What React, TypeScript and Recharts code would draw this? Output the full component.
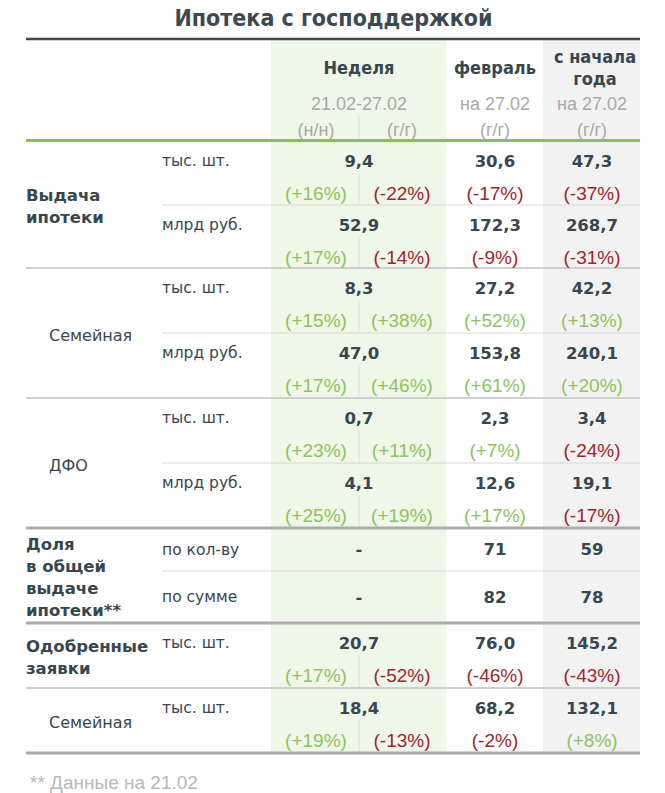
import React from 'react';
import { ComposedChart, XAxis, YAxis, Scatter, ReferenceArea, ReferenceLine } from 'recharts';

// ---------- data ----------
const title = 'Ипотека с господдержкой';
const columnHeaders = [['Неделя'], ['февраль'], ['с начала', 'года']];
const periodLabels = ['21.02-27.02', 'на 27.02', 'на 27.02'];
const changeLabels = ['(н/н)', '(г/г)', '(г/г)', '(г/г)'];
const sectionLabels = [
  ['Выдача', 'ипотеки'],
  ['Семейная'],
  ['ДФО'],
  ['Доля', 'в общей', 'выдаче', 'ипотеки**'],
  ['Одобренные', 'заявки'],
  ['Семейная'],
];
const sectionBold = [true, false, false, true, true, false];
const sectionRows = [[0, 1], [2, 3], [4, 5], [6, 7], [8], [9]];
const sectionDecimals = [1, 1, 1, 0, 1, 1];
const unitLabels = ['тыс. шт.', 'млрд руб.', 'тыс. шт.', 'млрд руб.', 'тыс. шт.', 'млрд руб.', 'по кол-ву', 'по сумме', 'тыс. шт.', 'тыс. шт.'];
const weekValues = [9.4, 52.9, 8.3, 47.0, 0.7, 4.1, null, null, 20.7, 18.4];
const febValues = [30.6, 172.3, 27.2, 153.8, 2.3, 12.6, 71, 82, 76.0, 68.2];
const ytdValues = [47.3, 268.7, 42.2, 240.1, 3.4, 19.1, 59, 78, 145.2, 132.1];
const weekWoW = [16, 17, 15, 17, 23, 25, null, null, 17, 19];
const weekYoY = [-22, -14, 38, 46, 11, 19, null, null, -52, -13];
const febYoY = [-17, -9, 52, 61, 7, 17, null, null, -46, -2];
const ytdYoY = [-37, -31, 13, 20, -24, -17, null, null, -43, 8];
const footnote = '** Данные на 21.02';

// ---------- layout ----------
const W = 665;
const H = 793;
const LEFT = 26;
const RIGHT = 640;
const UNIT_X = 162;
const COL = { week: 359, wow: 316, yoy: 402, feb: 495, ytd: 592 };
const GREEN_BAND = [271, 446];
const GRAY_BAND = [543, 640];
const TITLE_LINE = 39;
const HEADER_LINE = 140.5;
const rowTops = [141, 205, 268, 333, 398, 463, 528, 571, 623, 688, 753];

const DARK = '#37474f';
const GREEN_TXT = '#8cc45e';
const RED_TXT = '#a3242a';
const GRAY_TXT = '#a9a9a9';

const SANS = "'DejaVu Sans', Verdana, sans-serif";
const COND = "'DejaVu Sans Condensed', 'DejaVu Sans', sans-serif";
const LIB = "'Liberation Sans', Arial, sans-serif";

type Kind = 'title' | 'colHeader' | 'sub' | 'unit' | 'sectionB' | 'section' | 'value' | 'pct' | 'foot';
const STYLES: Record<Kind, { font: string; size: number; weight: number | string; color: string; anchor: string; stretch?: string }> = {
  title: { font: COND, size: 23, weight: 700, color: '#3b4a50', anchor: 'middle', stretch: 'condensed' },
  colHeader: { font: COND, size: 18, weight: 700, color: DARK, anchor: 'middle', stretch: 'condensed' },
  sub: { font: LIB, size: 18, weight: 400, color: GRAY_TXT, anchor: 'middle' },
  unit: { font: SANS, size: 15.5, weight: 400, color: DARK, anchor: 'start' },
  sectionB: { font: SANS, size: 16.5, weight: 700, color: DARK, anchor: 'start' },
  section: { font: SANS, size: 16, weight: 400, color: DARK, anchor: 'start' },
  value: { font: SANS, size: 16.5, weight: 700, color: DARK, anchor: 'middle' },
  pct: { font: LIB, size: 19, weight: 400, color: DARK, anchor: 'middle' },
  foot: { font: LIB, size: 19, weight: 400, color: '#b8b8b8', anchor: 'start' },
};

const fmtValue = (v: number | null, dec: number) =>
  v === null ? '-' : v.toFixed(dec).replace('.', ',');
const fmtPct = (v: number) => (v > 0 ? `(+${v}%)` : `(${v}%)`);
const pctColor = (v: number) => (v >= 0 ? GREEN_TXT : RED_TXT);

type Item = { x: number; y: number; text: string; kind: Kind; color?: string };

const buildItems = (): Item[] => {
  const items: Item[] = [];
  items.push({ x: W / 2 + 1, y: 18, text: title, kind: 'title' });
  const headerX = [COL.week, COL.feb, 595];
  columnHeaders.forEach((lines, i) => {
    if (lines.length === 1) items.push({ x: headerX[i], y: 67, text: lines[0], kind: 'colHeader' });
    else lines.forEach((t, j) => items.push({ x: headerX[i], y: 56 + j * 22, text: t, kind: 'colHeader' }));
  });
  const subX = [COL.week, COL.feb, COL.ytd];
  periodLabels.forEach((t, i) => items.push({ x: subX[i], y: 104, text: t, kind: 'sub' }));
  const chX = [COL.wow, COL.yoy, COL.feb, COL.ytd];
  changeLabels.forEach((t, i) => items.push({ x: chX[i], y: 130, text: t, kind: 'sub' }));

  sectionRows.forEach((rows, s) => {
    const top = rowTops[rows[0]];
    const bottom = rowTops[rows[rows.length - 1] + 1];
    const mid = (top + bottom) / 2 + 2;
    const lines = sectionLabels[s];
    const bold = sectionBold[s];
    lines.forEach((t, j) =>
      items.push({
        x: bold ? LEFT : 49,
        y: mid - ((lines.length - 1) * 22) / 2 + j * 22,
        text: t,
        kind: bold ? 'sectionB' : 'section',
      })
    );
    rows.forEach((r) => {
      const rt = rowTops[r];
      const rb = rowTops[r + 1];
      const twoLine = weekWoW[r] !== null;
      const vy = twoLine ? rt + 20 : (rt + rb) / 2;
      const dec = sectionDecimals[s];
      items.push({ x: UNIT_X, y: vy, text: unitLabels[r], kind: 'unit' });
      items.push({ x: COL.week, y: vy, text: fmtValue(weekValues[r], dec), kind: 'value' });
      items.push({ x: COL.feb, y: vy, text: fmtValue(febValues[r], dec), kind: 'value' });
      items.push({ x: COL.ytd, y: vy, text: fmtValue(ytdValues[r], dec), kind: 'value' });
      if (twoLine) {
        const py = rt + 52;
        const pcts: [number, number | null][] = [
          [COL.wow, weekWoW[r]],
          [COL.yoy, weekYoY[r]],
          [COL.feb, febYoY[r]],
          [COL.ytd, ytdYoY[r]],
        ];
        pcts.forEach(([x, v]) => {
          if (v !== null) items.push({ x, y: py, text: fmtPct(v), kind: 'pct', color: pctColor(v) });
        });
      }
    });
  });
  items.push({ x: 30, y: 782, text: footnote, kind: 'foot' });
  return items;
};

const items = buildItems();

const renderText = (props: any) => {
  const { cx, cy, payload } = props;
  const s = STYLES[payload.kind as Kind];
  return (
    <text
      x={cx}
      y={cy}
      textAnchor={s.anchor as any}
      dominantBaseline="central"
      fontFamily={s.font}
      fontSize={s.size}
      fontWeight={s.weight}
      fontStretch={s.stretch}
      fill={payload.color ?? s.color}
    >
      {payload.text}
    </text>
  );
};

const sectionBoundaries = sectionRows.map((rows) => rowTops[rows[rows.length - 1] + 1]);
const heavyAfter = [528, 623, 753];

export default function App() {
  const subLines: number[] = [];
  sectionRows.forEach((rows) => rows.slice(1).forEach((r) => subLines.push(rowTops[r])));
  const dividerSegs: [number, number][] = [[115, HEADER_LINE]];
  weekWoW.forEach((v, r) => {
    if (v !== null) dividerSegs.push([rowTops[r] + 32, rowTops[r + 1]]);
  });

  return (
    <div style={{ position: 'absolute', left: 0, top: 0, width: W, height: H, background: '#fff' }}>
      <ComposedChart width={W} height={H} margin={{ top: 0, right: 0, bottom: 0, left: 0 }}>
        <XAxis type="number" dataKey="x" domain={[0, W]} allowDataOverflow hide />
        <YAxis type="number" dataKey="y" domain={[0, H]} allowDataOverflow reversed hide />
        <ReferenceArea x1={GREEN_BAND[0]} x2={GREEN_BAND[1]} y1={TITLE_LINE + 1} y2={753} fill="#eff7e8" fillOpacity={1} stroke="none" ifOverflow="visible" />
        <ReferenceArea x1={GRAY_BAND[0]} x2={GRAY_BAND[1]} y1={TITLE_LINE + 1} y2={753} fill="#f2f2f2" fillOpacity={1} stroke="none" ifOverflow="visible" />
        {dividerSegs.map(([a, b], i) => (
          <ReferenceLine key={`d${i}`} segment={[{ x: COL.week, y: a }, { x: COL.week, y: b }]} stroke="#dbe3d5" strokeWidth={1} ifOverflow="visible" />
        ))}
        <ReferenceLine segment={[{ x: LEFT, y: TITLE_LINE }, { x: RIGHT, y: TITLE_LINE }]} stroke="#3d4a50" strokeWidth={2.5} ifOverflow="visible" />
        <ReferenceLine segment={[{ x: LEFT, y: HEADER_LINE }, { x: RIGHT, y: HEADER_LINE }]} stroke="#8cc152" strokeWidth={3} ifOverflow="visible" />
        {subLines.map((y, i) => (
          <ReferenceLine key={`s${i}`} segment={[{ x: UNIT_X, y }, { x: RIGHT, y }]} stroke="#d8d8d8" strokeWidth={1} ifOverflow="visible" />
        ))}
        {sectionBoundaries.map((y, i) => {
          const heavy = heavyAfter.includes(y);
          return (
            <ReferenceLine
              key={`b${i}`}
              segment={[{ x: LEFT, y }, { x: RIGHT, y }]}
              stroke={heavy ? '#ababab' : '#cfcfcf'}
              strokeWidth={heavy ? 3 : 2}
              ifOverflow="visible"
            />
          );
        })}
        <Scatter data={items} dataKey="y" shape={renderText} isAnimationActive={false} />
      </ComposedChart>
    </div>
  );
}
